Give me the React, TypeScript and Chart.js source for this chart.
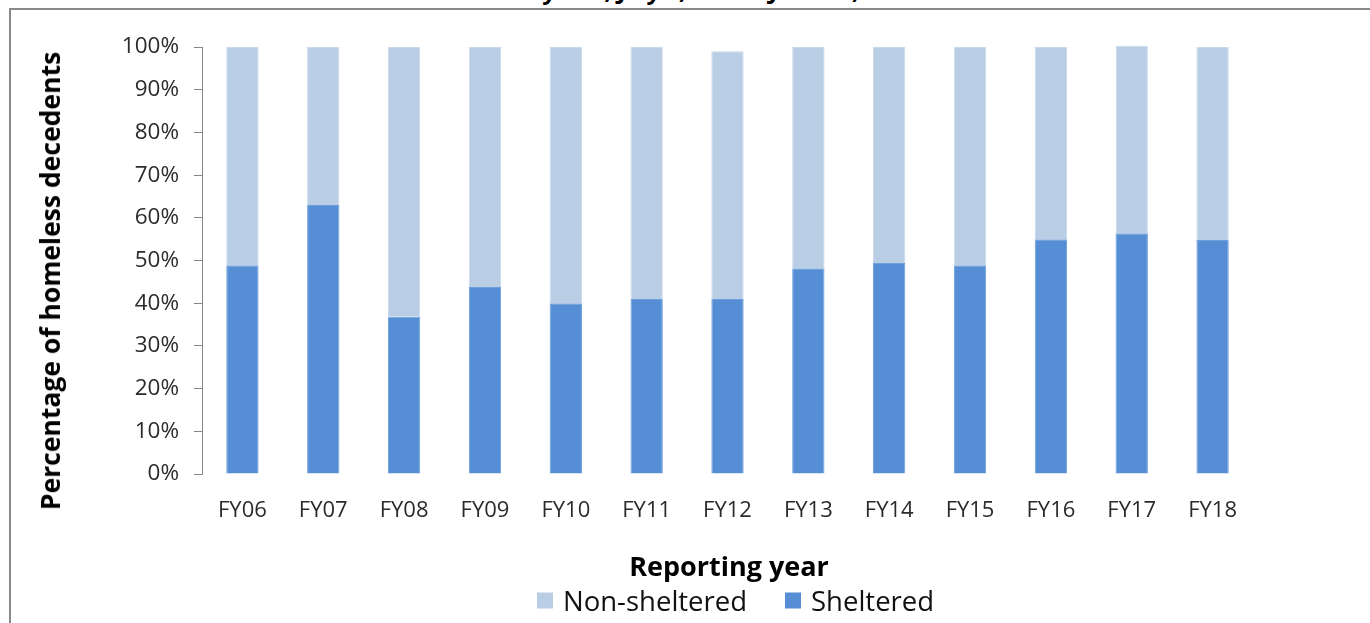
import React, { useEffect, useRef } from "react";
import { Chart, registerables } from "chart.js";

Chart.register(...registerables);

const categories = ["FY06", "FY07", "FY08", "FY09", "FY10", "FY11", "FY12", "FY13", "FY14", "FY15", "FY16", "FY17", "FY18"];
const sheltered = [48.9, 63.0, 36.8, 43.8, 40.0, 41.0, 41.0, 48.2, 49.4, 48.9, 55.0, 56.4, 54.8];
const nonSheltered = [51.1, 37.0, 63.2, 56.2, 60.0, 59.0, 58.0, 51.8, 50.6, 51.1, 45.0, 43.9, 45.2];
const yTickValues = [0, 10, 20, 30, 40, 50, 60, 70, 80, 90, 100];

const seriesNames = ["Non-sheltered", "Sheltered"];
const seriesColors = ["#B9CDE5", "#558ED5"];
const yTitle = "Percentage of homeless decedents";
const xTitle = "Reporting year";
const cutTitle = "Fiscal years, July 1, 2005 – June 30, 2018";

const FONT = "'Open Sans', 'Noto Sans', sans-serif";

export default function App() {
  const ref = useRef<HTMLCanvasElement | null>(null);

  useEffect(() => {
    if (!ref.current) return;
    const chart = new Chart(ref.current, {
      type: "bar",
      data: {
        labels: categories,
        datasets: [
          {
            label: seriesNames[1],
            data: sheltered,
            backgroundColor: seriesColors[1],
            borderColor: "#6E9FDC",
            borderWidth: 1,
            barPercentage: 0.4,
            categoryPercentage: 1,
            clip: false as any,
          },
          {
            label: seriesNames[0],
            data: nonSheltered,
            backgroundColor: seriesColors[0],
            borderColor: "#C9D9EC",
            borderWidth: 1,
            barPercentage: 0.4,
            categoryPercentage: 1,
            clip: false as any,
          },
        ],
      },
      options: {
        animation: false,
        responsive: false,
        maintainAspectRatio: false,
        layout: { padding: { top: 47, right: 117, left: 0, bottom: 0 } },
        plugins: {
          tooltip: { enabled: false },
          legend: { display: false },
        },
        scales: {
          x: {
            stacked: true,
            grid: { display: false },
            border: { display: false },
            ticks: {
              color: "#2b2b2b",
              padding: 16,
              font: { family: FONT, size: 22 },
            },
            afterFit: (s: any) => {
              s.height = 149;
            },
          },
          y: {
            stacked: true,
            min: 0,
            max: 100,
            afterBuildTicks: (s: any) => {
              s.ticks = yTickValues.map((v) => ({ value: v }));
            },
            ticks: {
              color: "#2b2b2b",
              padding: 15,
              font: { family: FONT, size: 22.5 },
              callback: (v: any) => v + "%",
            },
            grid: {
              display: true,
              drawOnChartArea: false,
              drawTicks: true,
              tickLength: 8,
              color: "#868686",
            },
            border: { display: true, color: "#868686", width: 1 },
            afterFit: (s: any) => {
              s.width = 202;
            },
          },
        },
      },
    });
    return () => chart.destroy();
  }, []);

  const legendItem = (name: string, color: string, left: number) => (
    <div
      key={name}
      style={{
        position: "absolute",
        left,
        top: 600,
        transform: "translateY(-50%)",
        display: "flex",
        alignItems: "center",
        fontFamily: FONT,
        fontSize: 27.5,
        color: "#111",
        whiteSpace: "nowrap",
      }}
    >
      <span style={{ display: "inline-block", width: 16, height: 16, background: color, marginRight: 10 }} />
      <span>{name}</span>
    </div>
  );

  return (
    <div style={{ position: "fixed", left: 0, top: 0, width: 1370, height: 623, background: "#fff", overflow: "hidden" }}>
      <div
        style={{
          position: "absolute",
          left: 0,
          top: -24,
          width: 1394,
          textAlign: "center",
          fontFamily: FONT,
          fontWeight: 700,
          fontStyle: "italic",
          fontSize: 24,
          lineHeight: "28px",
          color: "#000",
          whiteSpace: "nowrap",
        }}
      >
        {cutTitle}
      </div>
      <div
        style={{
          position: "absolute",
          left: 9,
          top: 8,
          width: 1400,
          height: 700,
          borderTop: "2px solid #8a8a8a",
          borderLeft: "2px solid #8a8a8a",
          background: "#fff",
        }}
      />
      <canvas ref={ref} width={1370} height={623} style={{ position: "absolute", left: 0, top: 0, width: 1370, height: 623 }} />
      <div
        style={{
          position: "absolute",
          left: 50,
          top: 281,
          transform: "translate(-50%, -50%) rotate(-90deg)",
          fontFamily: FONT,
          fontWeight: 700,
          fontSize: 26.5,
          color: "#000",
          whiteSpace: "nowrap",
        }}
      >
        {yTitle}
      </div>
      <div
        style={{
          position: "absolute",
          left: 729,
          top: 565,
          transform: "translate(-50%, -50%)",
          fontFamily: FONT,
          fontWeight: 700,
          fontSize: 27,
          color: "#000",
          whiteSpace: "nowrap",
        }}
      >
        {xTitle}
      </div>
      {legendItem(seriesNames[0], seriesColors[0], 537)}
      {legendItem(seriesNames[1], seriesColors[1], 785)}
    </div>
  );
}
